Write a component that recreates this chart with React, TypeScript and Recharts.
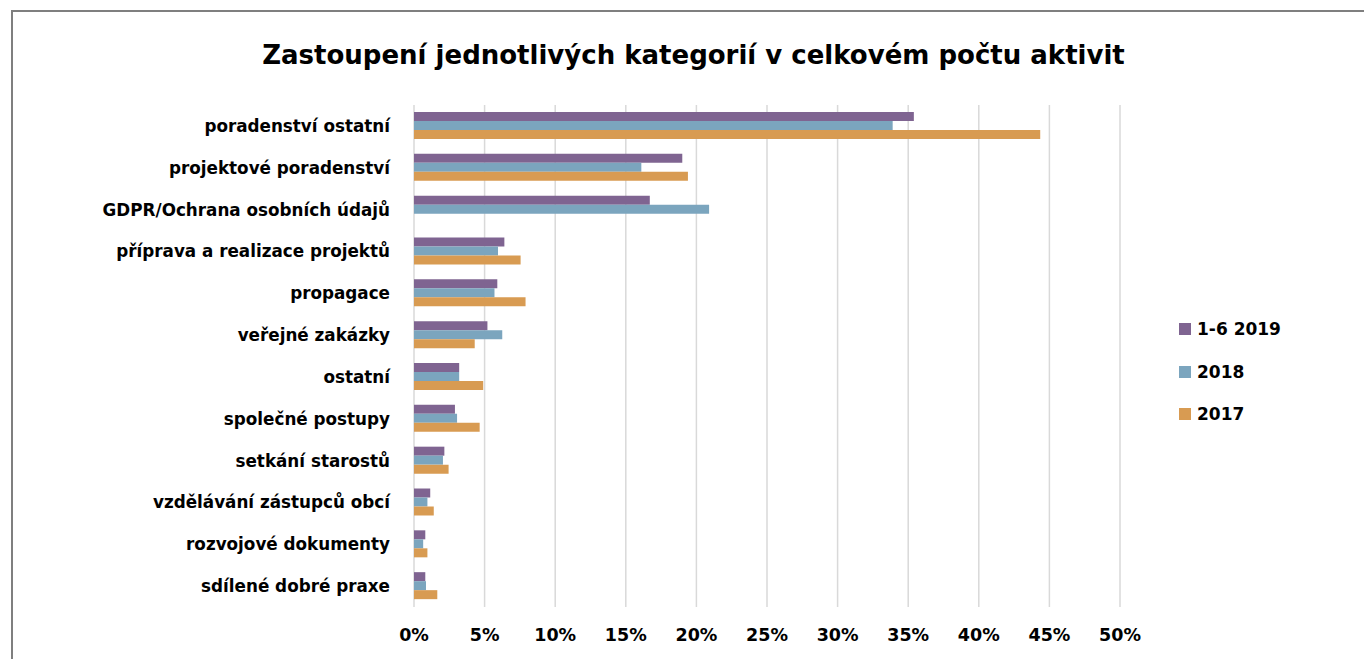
import { Bar, BarChart, CartesianGrid, XAxis, YAxis } from "recharts";

const categories = [
  "poradenství ostatní",
  "projektové poradenství",
  "GDPR/Ochrana osobních údajů",
  "příprava a realizace projektů",
  "propagace",
  "veřejné zakázky",
  "ostatní",
  "společné postupy",
  "setkání starostů",
  "vzdělávání zástupců obcí",
  "rozvojové dokumenty",
  "sdílené dobré praxe",
];

const h2019 = [35.4, 19.0, 16.7, 6.4, 5.9, 5.2, 3.2, 2.9, 2.15, 1.15, 0.8, 0.8];
const y2018 = [33.9, 16.1, 20.9, 5.95, 5.7, 6.25, 3.2, 3.05, 2.05, 0.95, 0.65, 0.85];
const y2017 = [44.35, 19.4, 0, 7.55, 7.9, 4.3, 4.9, 4.65, 2.45, 1.4, 0.95, 1.65];

const ticks = [0, 5, 10, 15, 20, 25, 30, 35, 40, 45, 50];

const series = [
  { key: "h2019", name: "1-6 2019", color: "#7f6491" },
  { key: "y2018", name: "2018", color: "#7ba5be" },
  { key: "y2017", name: "2017", color: "#d89b52" },
];

const data = categories.map((name, i) => ({
  name,
  h2019: h2019[i],
  y2018: y2018[i],
  y2017: y2017[i] || null,
}));

const FONT = "'DejaVu Sans', sans-serif";

export default function App() {
  return (
    <div style={{ position: "absolute", left: 0, top: 0, width: 1364, height: 659, background: "#fff", overflow: "hidden" }}>
      <div
        style={{
          position: "absolute",
          left: 11,
          top: 10,
          width: 1400,
          height: 700,
          borderTop: "2px solid #7f7f7f",
          borderLeft: "2px solid #7f7f7f",
        }}
      />
      <div
        style={{
          position: "absolute",
          left: 0,
          width: 1387,
          top: 40,
          textAlign: "center",
          fontFamily: FONT,
          fontWeight: 700,
          fontSize: 26,
          color: "#000",
        }}
      >
        Zastoupení jednotlivých kategorií v celkovém počtu aktivit
      </div>
      <BarChart
        width={1364}
        height={659}
        data={data}
        layout="vertical"
        margin={{ top: 105, right: 244, left: 0, bottom: 0 }}
        barGap={0}
        barSize={9}
        style={{ position: "absolute", left: 0, top: 0 }}
      >
        <CartesianGrid vertical horizontal={false} stroke="#d9d9d9" strokeWidth={1.5} />
        <XAxis
          type="number"
          domain={[0, 50]}
          ticks={ticks}
          height={52}
          tickFormatter={(v) => `${v}%`}
          axisLine={false}
          tickLine={false}
          tickSize={0}
          tickMargin={22}
          tick={{ fill: "#000", fontSize: 17.5, fontWeight: 700, fontFamily: FONT }}
          interval={0}
        />
        <YAxis
          type="category"
          dataKey="name"
          width={414}
          axisLine={false}
          tickLine={false}
          tickSize={0}
          tickMargin={24}
          tick={{ fill: "#000", fontSize: 16.8, fontWeight: 700, fontFamily: FONT }}
          interval={0}
        />
        {series.map((s) => (
          <Bar key={s.key} dataKey={s.key} name={s.name} fill={s.color} isAnimationActive={false} />
        ))}
      </BarChart>
      <div style={{ position: "absolute", left: 1179, top: 308, fontFamily: FONT }}>
        {series.map((s) => (
          <div
            key={s.key}
            style={{ display: "flex", alignItems: "center", height: 42.5, fontSize: 17, fontWeight: 700, color: "#000" }}
          >
            <span style={{ width: 12, height: 12, background: s.color, marginRight: 6, display: "inline-block" }} />
            {s.name}
          </div>
        ))}
      </div>
    </div>
  );
}
